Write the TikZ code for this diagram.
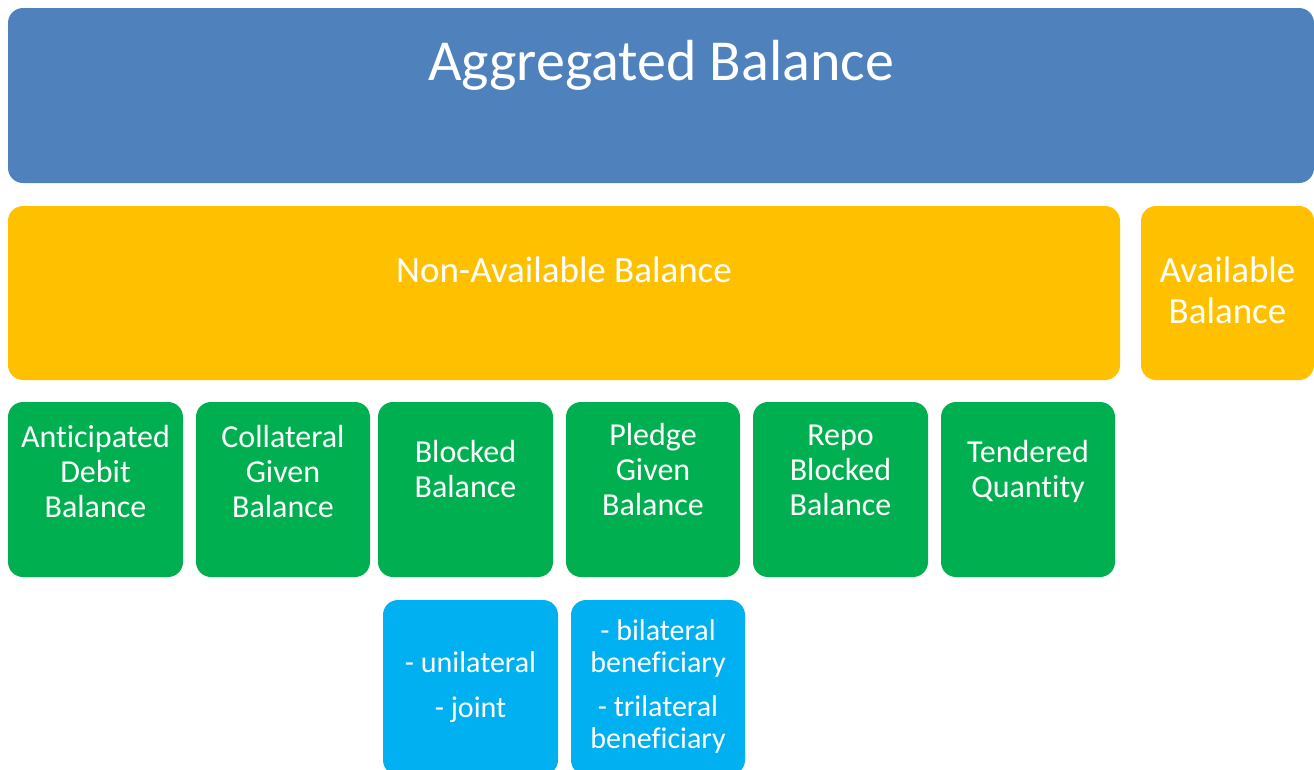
\documentclass[tikz,border=0pt]{standalone}
\usepackage{fontspec}
\setmainfont{Carlito}[Ligatures=NoCommon]
\usetikzlibrary{positioning}
\definecolor{aggblue}{HTML}{4F81BD}
\definecolor{balyellow}{HTML}{FFC000}
\definecolor{partgreen}{HTML}{00B050}
\definecolor{subblue}{HTML}{00B0F0}

\begin{document}
\begin{tikzpicture}[x=1pt,y=-1pt,
    tile/.style={rectangle, rounded corners=15pt, inner sep=0pt, minimum width=175pt, minimum height=175pt},
    txt/.style={inner sep=0pt, text=white, align=center, anchor=base},
    greentxt/.style={txt, font=\fontsize{32}{35}\selectfont},
    bluetxt/.style={txt, font=\fontsize{30}{31.5}\selectfont}]
    \useasboundingbox (0,0) rectangle (1314,769);
    \clip (0,0) rectangle (1314,769);

    \node[tile, fill=aggblue, minimum width=1306pt] (agg) at (661,95.5) {};
    \node[tile, fill=balyellow, minimum width=1112pt, minimum height=174pt] (nonavail) at (564,293) {};
    \node[tile, fill=balyellow, minimum width=173pt, minimum height=174pt] (avail) at (1227.5,293) {};

    \node[tile, fill=partgreen] (antic) at (95.5,489.5) {};
    \node[tile, fill=partgreen, minimum width=174pt] (collat) at (283,489.5) {};
    \node[tile, fill=partgreen] (blocked) at (465.5,489.5) {};
    \node[tile, fill=partgreen, minimum width=174pt] (pledge) at (653,489.5) {};
    \node[tile, fill=partgreen] (repo) at (840.5,489.5) {};
    \node[tile, fill=partgreen, minimum width=174pt] (tender) at (1028,489.5) {};

    \node[tile, fill=subblue] (blockedsub) at (470.5,687.5) {};
    \node[tile, fill=subblue, minimum width=174pt] (pledgesub) at (658,687.5) {};

    % texts (anchored at the baseline of the last line)
    \node[txt, font=\fontsize{58}{70}\selectfont] (aggtxt) at (661,80) {Aggregated Balance};
    \node[txt, font=\fontsize{37}{41}\selectfont] (nonavailtxt) at (564,282) {Non-Available Balance};
    \node[txt, font=\fontsize{37}{41}\selectfont] (availtxt) at (1227.5,323) {Available\\Balance};

    \node[greentxt] (antictxt) at (95.5,517) {Anticipated\\Debit\\Balance};
    \node[greentxt] (collattxt) at (283,517) {Collateral\\Given\\Balance};
    \node[greentxt] (blockedtxt) at (465.5,497) {Blocked\\Balance};
    \node[greentxt] (pledgetxt) at (653,515) {Pledge\\Given\\Balance};
    \node[greentxt] (repotxt) at (840.5,515) {Repo\\Blocked\\Balance};
    \node[greentxt] (tendertxt) at (1028,497) {Tendered\\Quantity};

    \node[bluetxt] (blockedsubtxt) at (470.5,717) {- unilateral\\[13pt]- joint};
    \node[bluetxt] (pledgesubtxt) at (658,748) {- bilateral\\beneficiary\\[13pt]- trilateral\\beneficiary};
\end{tikzpicture}
\end{document}
